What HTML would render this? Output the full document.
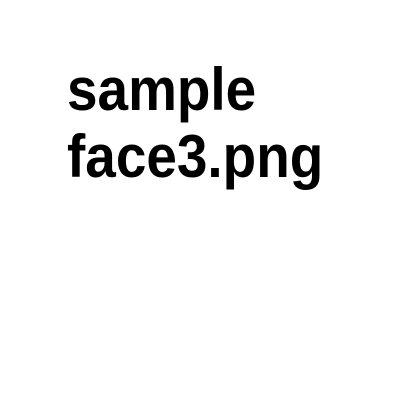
<!DOCTYPE html>
<html><head><style>
html,body{margin:0;padding:0;background:#fff;width:400px;height:400px;overflow:hidden}
#t{position:absolute;left:67px;top:56px;font-family:"Liberation Sans",sans-serif;font-weight:bold;font-size:60px;line-height:67px;color:#000;white-space:nowrap;transform:scaleX(0.915);transform-origin:0 0}
</style></head><body>
<div id="t">sample<br>face3.png</div>
</body></html>
